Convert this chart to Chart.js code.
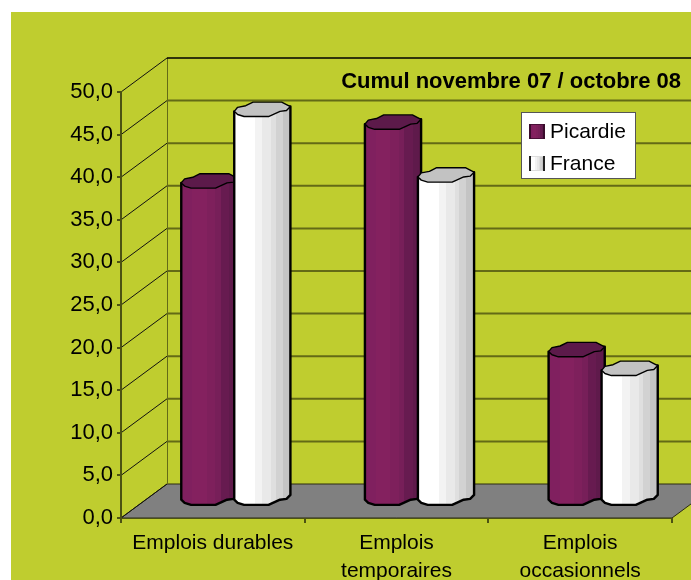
<!DOCTYPE html>
<html>
<head>
<meta charset="utf-8">
<title>Cumul novembre 07 / octobre 08</title>
<style>
  html, body { margin: 0; padding: 0; background: #fff; }
  canvas { display: block; }
</style>
<script src="https://cdn.jsdelivr.net/npm/chart.js@4/dist/chart.umd.min.js"></script>
</head>
<body>
<canvas id="chart" width="691" height="580"></canvas>
<script>
const chartTitle = 'Cumul novembre 07 / octobre 08';
const categories = [['Emplois durables'], ['Emplois', 'temporaires'], ['Emplois', 'occasionnels']];
const picardie = [37.3, 44.2, 17.5];
const france = [45.7, 38.0, 15.3];
const yTickLabels = ['0,0', '5,0', '10,0', '15,0', '20,0', '25,0', '30,0', '35,0', '40,0', '45,0', '50,0'];

const FONT = '"Liberation Sans", Arial, sans-serif';
const OLIVE = '#bfcd2f';
const AXIS = '#4c5212';
const GRID = '#636a16';

// 3D look: how far the back wall sits from the front axes
const DEPTH_X = 46, DEPTH_Y = 34;
// bars stand mid way on the floor
const BAR_DX = 23, BAR_DY = 19.3, CAP_RY = 7.2;

// lumpy outline of the cylinder section, in half width / half height units
const capUpper = [[-1, 0.28], [-0.88, -0.28], [-0.59, -0.5], [-0.33, -1], [0.69, -1], [0.86, -0.67], [1, -0.39]];
const capLower = [[1, -0.39], [0.86, 0.17], [0.63, 0.28], [0.22, 1], [-0.65, 1], [-0.88, 0.72], [-1, 0.28]];

const purpleBands = [[0, '#80205f'], [0.2, '#84215f'], [0.45, '#7e205c'], [0.6, '#771f59'], [0.7, '#671b50'], [0.85, '#5f1a4b'], [1, '#581846']];
const whiteBands = [[0, '#ffffff'], [0.28, '#ffffff'], [0.37, '#f3f3f3'], [0.5, '#e9e9e9'], [0.66, '#dfdfdf'], [0.74, '#d2d2d2'], [0.86, '#c4c4c4'], [1, '#bdbdbd']];

function bandGradient(ctx, x0, x1, bands) {
  const g = ctx.createLinearGradient(x0, 0, x1, 0);
  bands.forEach((b, i) => {
    g.addColorStop(b[0], b[1]);
    if (i + 1 < bands.length) g.addColorStop(bands[i + 1][0], b[1]);
  });
  return g;
}

function drawCylinder(ctx, bar, bands, capColor) {
  const cx = bar.x + BAR_DX, rx = bar.width / 2;
  const top = bar.y - BAR_DY, base = bar.base - BAR_DY;
  const px = p => cx + p[0] * rx;

  // body
  ctx.beginPath();
  ctx.moveTo(px(capUpper[0]), top + capUpper[0][1] * CAP_RY);
  capLower.slice().reverse().forEach(p => ctx.lineTo(px(p), base + p[1] * CAP_RY));
  ctx.lineTo(px(capLower[0]), top + capLower[0][1] * CAP_RY);
  ctx.closePath();
  ctx.fillStyle = bandGradient(ctx, cx - rx, cx + rx, bands);
  ctx.fill();
  ctx.lineWidth = 2.4;
  ctx.lineJoin = 'round';
  ctx.strokeStyle = '#000';
  ctx.stroke();

  // cap
  ctx.beginPath();
  capUpper.concat(capLower).forEach((p, i) => {
    if (i === 0) ctx.moveTo(px(p), top + p[1] * CAP_RY);
    else ctx.lineTo(px(p), top + p[1] * CAP_RY);
  });
  ctx.closePath();
  ctx.fillStyle = capColor;
  ctx.fill();
  ctx.lineWidth = 1.4;
  ctx.stroke();
}

const wallsPlugin = {
  id: 'walls',
  beforeDraw(chart) {
    const { ctx, chartArea: a, scales: { y } } = chart;
    ctx.save();
    ctx.fillStyle = OLIVE;
    ctx.fillRect(11, 12, chart.width - 11, chart.height - 12);

    // floor
    ctx.beginPath();
    ctx.moveTo(a.left, a.bottom);
    ctx.lineTo(a.left + DEPTH_X, a.bottom - DEPTH_Y);
    ctx.lineTo(a.right + DEPTH_X, a.bottom - DEPTH_Y);
    ctx.lineTo(a.right, a.bottom);
    ctx.closePath();
    ctx.fillStyle = '#808080';
    ctx.fill();
    ctx.strokeStyle = '#2b2b10';
    ctx.lineWidth = 1;
    ctx.stroke();

    // back wall edge
    ctx.strokeStyle = GRID;
    ctx.lineWidth = 1;
    ctx.beginPath();
    ctx.moveTo(a.left + DEPTH_X + 0.5, y.getPixelForValue(y.max) - DEPTH_Y);
    ctx.lineTo(a.left + DEPTH_X + 0.5, a.bottom - DEPTH_Y);
    ctx.stroke();

    // grid on both walls
    y.ticks.forEach(t => {
      const py = y.getPixelForValue(t.value);
      if (t.value > y.min) {
        const isTop = t.value === y.max;
        ctx.strokeStyle = isTop ? '#000' : GRID;
        ctx.lineWidth = isTop ? 1.5 : 2;
        ctx.beginPath();
        ctx.moveTo(a.left + DEPTH_X, py - DEPTH_Y);
        ctx.lineTo(a.right + DEPTH_X, py - DEPTH_Y);
        ctx.stroke();
      }
      ctx.strokeStyle = '#111';
      ctx.lineWidth = 1;
      ctx.beginPath();
      ctx.moveTo(a.left, py);
      ctx.lineTo(a.left + DEPTH_X, py - DEPTH_Y);
      ctx.stroke();
    });
    ctx.restore();
  },
  // France has to overlap Picardie, so draw the series in their own order
  beforeDatasetsDraw(chart) {
    const { ctx } = chart;
    ctx.save();
    chart.data.datasets.forEach((ds, i) => {
      chart.getDatasetMeta(i).data.forEach(bar => drawCylinder(ctx, bar, ds.bands, ds.capColor));
    });
    ctx.restore();
    return false;
  },
  afterDraw(chart) {
    const { ctx } = chart;
    ctx.save();

    // title
    ctx.font = 'bold 22px ' + FONT;
    ctx.fillStyle = '#000';
    ctx.textAlign = 'right';
    ctx.textBaseline = 'middle';
    ctx.fillText(chartTitle, 681, 82);

    // legend
    ctx.fillStyle = '#fff';
    ctx.fillRect(521.5, 112.5, 114, 66);
    ctx.strokeStyle = '#555';
    ctx.lineWidth = 1;
    ctx.strokeRect(521.5, 112.5, 114, 66);
    ctx.textAlign = 'left';
    ctx.font = '21px ' + FONT;
    chart.data.datasets.forEach((ds, i) => {
      const ly = 124 + i * 32;
      ctx.fillStyle = bandGradient(ctx, 530, 544, ds.bands);
      ctx.fillRect(530, ly, 14, 15);
      ctx.strokeStyle = ds.swatchEnds;
      ctx.strokeRect(530.5, ly + 0.5, 13, 14);
      ctx.strokeStyle = ds.swatchSides;
      ctx.lineWidth = 2;
      ctx.beginPath();
      ctx.moveTo(530, ly);
      ctx.lineTo(530, ly + 15);
      ctx.moveTo(544, ly);
      ctx.lineTo(544, ly + 15);
      ctx.stroke();
      ctx.lineWidth = 1;
      ctx.fillStyle = '#000';
      ctx.fillText(ds.label, 550, ly + 8);
    });
    ctx.restore();
  }
};

new Chart(document.getElementById('chart'), {
  type: 'bar',
  data: {
    labels: categories,
    datasets: [
      {
        label: 'Picardie', data: picardie,
        backgroundColor: '#80205f', swatchEnds: '#4a1038', swatchSides: '#3a0c2c',
        bands: purpleBands, capColor: '#5c1a4a'
      },
      {
        label: 'France', data: france,
        backgroundColor: '#ffffff', swatchEnds: '#dddddd', swatchSides: '#222222',
        bands: whiteBands, capColor: '#c2c2c2'
      }
    ]
  },
  options: {
    responsive: false,
    animation: false,
    categoryPercentage: 0.577,
    barPercentage: 1.06,
    layout: { padding: { left: 0, right: 19, top: 92, bottom: 0 } },
    plugins: {
      legend: { display: false },
      tooltip: { enabled: false }
    },
    scales: {
      x: {
        afterFit(scale) { scale.height = 62; },
        border: { color: AXIS, width: 1 },
        grid: { drawOnChartArea: false, color: AXIS, tickLength: 5, lineWidth: 2 },
        ticks: {
          color: '#000', padding: 6, maxRotation: 0, autoSkip: false,
          font: { family: FONT, size: 21, lineHeight: 1.33 }
        }
      },
      y: {
        min: 0,
        max: 50,
        afterFit(scale) { scale.width = 121; },
        border: { color: AXIS, width: 2 },
        grid: { drawOnChartArea: false, color: AXIS, tickLength: 4, lineWidth: 2 },
        ticks: {
          stepSize: 5, color: '#000', padding: 4,
          font: { family: FONT, size: 22 },
          callback: (v, i) => yTickLabels[i]
        }
      }
    }
  },
  plugins: [wallsPlugin]
});
</script>
</body>
</html>
